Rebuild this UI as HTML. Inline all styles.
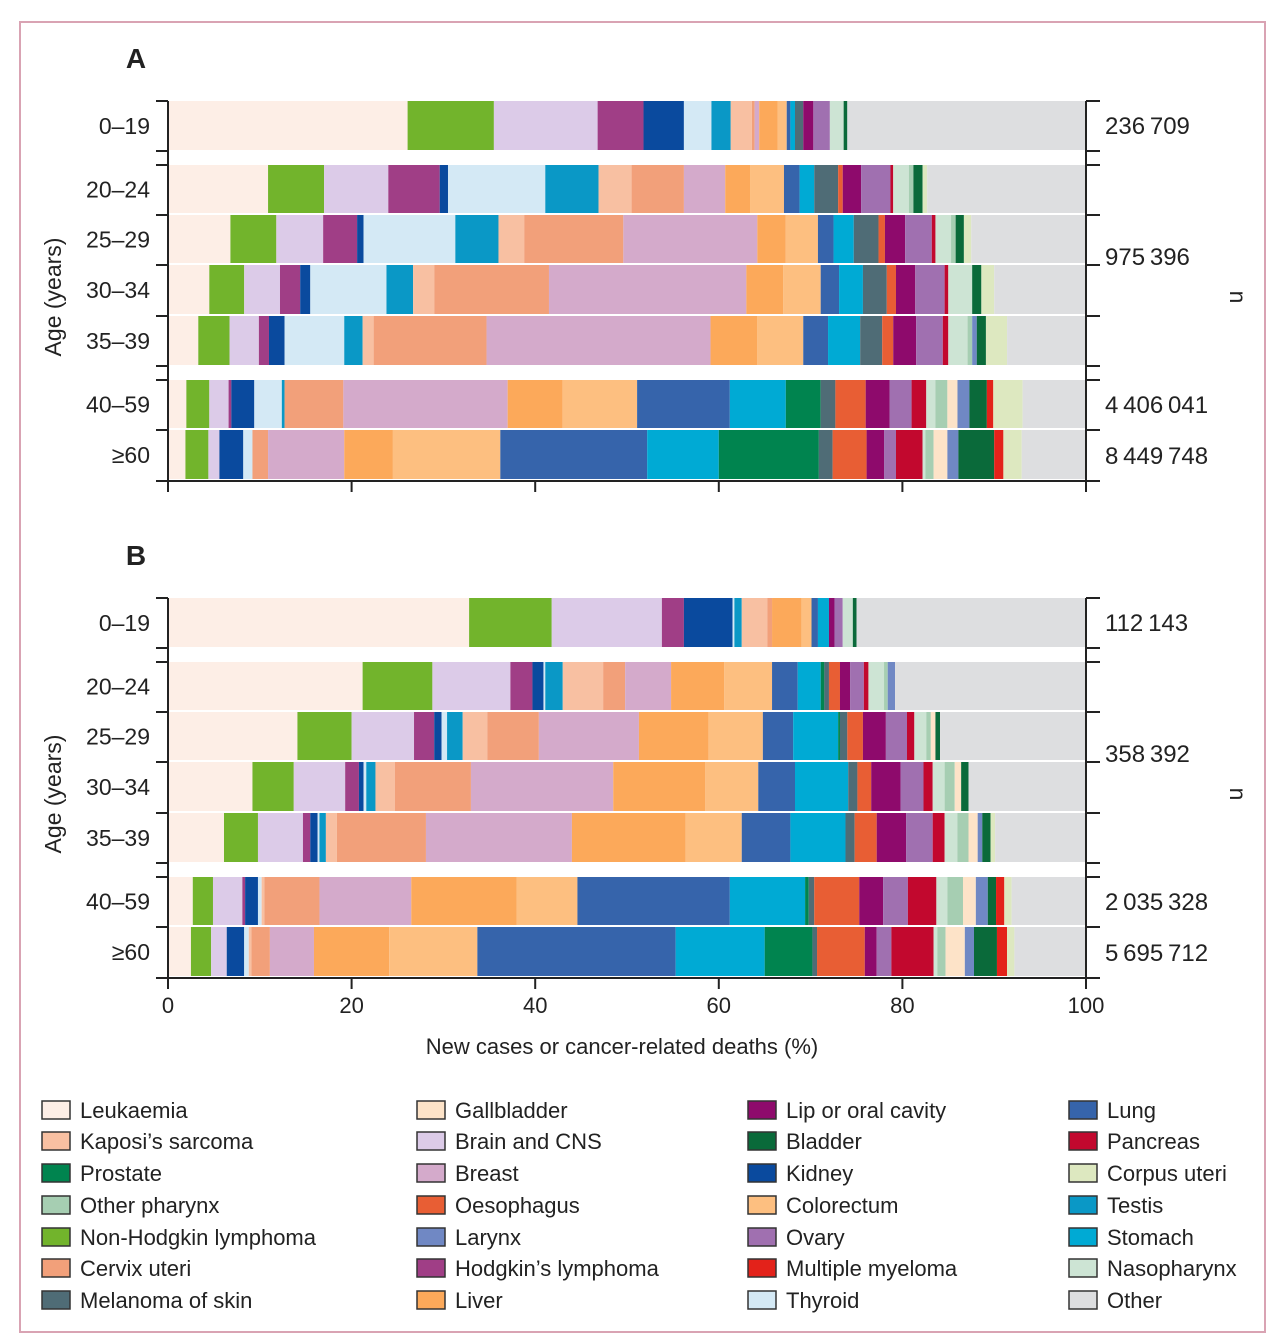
<!DOCTYPE html>
<html><head><meta charset="utf-8">
<style>
html,body{margin:0;padding:0;background:#fff;}
body{width:1280px;height:1344px;position:relative;overflow:hidden;font-family:"Liberation Sans",sans-serif;}
svg{position:absolute;left:0;top:0;}
text{font-family:"Liberation Sans",sans-serif;fill:#222;}
</style></head>
<body>
<svg id="chart" width="1280" height="1344" viewBox="0 0 1280 1344">
<rect x="20" y="22" width="1245" height="1310" fill="#fff" stroke="#d9a3b3" stroke-width="2"/>
</svg>
<script>
// categories in stacking order
const categories = ["Leukaemia","Non-Hodgkin lymphoma","Brain and CNS","Hodgkin's lymphoma","Kidney","Thyroid","Testis","Kaposi's sarcoma","Cervix uteri","Breast","Liver","Colorectum","Lung","Stomach","Prostate","Melanoma of skin","Oesophagus","Lip or oral cavity","Ovary","Pancreas","Nasopharynx","Other pharynx","Gallbladder","Larynx","Bladder","Multiple myeloma","Corpus uteri"];
const colors = ["#fdeee6","#72b42c","#dccbe8","#a03e86","#0a4a9e","#d4e9f5","#0a98c6","#f8c0a2","#f2a07a","#d4aacb","#fca95a","#fdbf80","#3664ab","#00aad4","#00844f","#4f6c76","#e85e34","#8e0a6c","#a070b0","#c2082e","#cde4d4","#a6ceb2","#fde3c8","#7088c4","#0a6a3a","#e3221a","#dde8c0"];
const otherColor = "#dddee0";
const ageLabels = ["0–19","20–24","25–29","30–34","35–39","40–59","≥60"];
// Panel A values (%) per age group, in category order
const a0_19 = [26.1,9.4,11.3,5.0,4.4,3.0,2.1,2.3,0.3,0.5,2.0,1.0,0.4,0.5,0,0.9,0,1.1,1.8,0,1.5,0,0,0,0.4,0,0];
const a20_24 = [10.9,6.1,7.0,5.6,0.9,10.6,5.8,3.6,5.7,4.5,2.7,3.7,1.7,1.6,0,2.6,0.5,2.0,3.2,0.3,1.7,0.5,0,0,1.0,0,0.5];
const a25_29 = [6.8,5.0,5.1,3.7,0.7,10.0,4.7,2.8,10.8,14.6,3.1,3.5,1.7,2.2,0,2.7,0.7,2.2,2.9,0.4,1.7,0.5,0,0,0.9,0,0.8];
const a30_34 = [4.5,3.8,3.9,2.2,1.1,8.3,2.9,2.3,12.5,21.5,4.0,4.1,2.0,2.6,0,2.6,1.0,2.1,3.2,0.4,2.6,0,0,0,1.0,0,1.4];
const a35_39 = [3.3,3.4,3.2,1.1,1.7,6.5,2.0,1.2,12.3,24.4,5.1,5.0,2.7,3.5,0,2.4,1.2,2.5,2.9,0.6,2.1,0.5,0,0.5,1.0,0,2.3];
const a40_59 = [2.0,2.5,2.1,0.3,2.5,3.0,0.3,0,6.4,17.9,6.0,8.1,10.1,6.1,3.8,1.6,3.3,2.6,2.4,1.6,1.0,1.3,1.1,1.3,1.9,0.7,3.2];
const a60 = [1.9,2.5,1.2,0,2.6,1.0,0,0,1.7,8.3,5.3,11.7,16.0,7.8,10.9,1.5,3.7,1.9,1.3,2.9,0.3,0.9,1.5,1.2,3.9,1.0,2.0];
// Panel B values (%)
const b0_19 = [32.8,9.0,12.0,2.4,5.3,0.2,0.8,2.8,0.5,0,3.2,1.1,0.7,1.2,0,0,0,0.6,0.9,0,1.1,0,0,0,0.4,0,0];
const b20_24 = [21.2,7.6,8.5,2.4,1.2,0.2,1.9,4.4,2.4,5.0,5.8,5.2,2.8,2.5,0.4,0.5,1.2,1.1,1.5,0.5,1.7,0.4,0,0.8,0,0,0];
const b25_29 = [14.1,5.9,6.8,2.2,0.8,0.6,1.7,2.7,5.6,10.9,7.6,5.9,3.3,4.9,0.2,0.8,1.7,2.5,2.3,0.8,1.3,0.5,0.5,0,0.5,0,0];
const b30_34 = [9.2,4.5,5.6,1.5,0.5,0.3,1.0,2.1,8.3,15.5,10.0,5.8,4.0,5.8,0,1.0,1.5,3.2,2.5,1.0,1.3,1.1,0.7,0,0.8,0,0];
const b35_39 = [6.1,3.7,4.9,0.8,0.8,0.2,0.7,1.2,9.7,15.9,12.4,6.1,5.3,6.0,0,1.0,2.4,3.2,2.9,1.3,1.4,1.2,1.0,0.5,0.9,0,0.5];
const b40_59 = [2.7,2.2,3.2,0.3,1.4,0.4,0,0.3,6.0,10.0,11.5,6.6,16.6,8.2,0.4,0.6,4.9,2.6,2.7,3.1,1.2,1.7,1.4,1.3,0.9,0.9,0.8];
const b60 = [2.5,2.2,1.7,0,1.9,0.5,0,0.3,2.0,4.8,8.2,9.6,21.6,9.7,5.2,0.5,5.2,1.3,1.6,4.6,0.4,0.9,2.1,1.0,2.5,1.1,0.8];
const nA = ["236\u2009709","975\u2009396","4\u2009406\u2009041","8\u2009449\u2009748"];
const nB = ["112\u2009143","358\u2009392","2\u2009035\u2009328","5\u2009695\u2009712"];
const xTicks = [0,20,40,60,80,100];
const legendOrder = ["Leukaemia","Kaposi's sarcoma","Prostate","Other pharynx","Non-Hodgkin lymphoma","Cervix uteri","Melanoma of skin","Gallbladder","Brain and CNS","Breast","Oesophagus","Larynx","Hodgkin's lymphoma","Liver","Lip or oral cavity","Bladder","Kidney","Colorectum","Ovary","Multiple myeloma","Thyroid","Lung","Pancreas","Corpus uteri","Testis","Stomach","Nasopharynx","Other"];

const svg = document.getElementById('chart');
const NS = 'http://www.w3.org/2000/svg';
function mk(tag, attrs, parent){const e=document.createElementNS(NS,tag);for(const k in attrs)e.setAttribute(k,attrs[k]);(parent||svg).appendChild(e);return e;}
const X0=168, X1=1086;
function xScale(v){return X0+(X1-X0)*v/100;}
const rowTops=[101,165,215,265,316,380,430];
const rowBots=[151,214,264,315,366,429,480];

function panel(rows, ns, off, letter, showTickLabels){
  const g=mk('g',{});
  
  
  const t=mk('text',{x:136,y:68+off,'font-size':28,'font-weight':'bold','text-anchor':'middle'},g);
  t.textContent=letter;
  
  
  rows.forEach((vals,ri)=>{
    const y=rowTops[ri]+off, h=rowBots[ri]-rowTops[ri]-1;
    let acc=0;
    vals.forEach((v,ci)=>{
      if(v<=0)return;
      const r=mk('rect',{x:xScale(acc),y:y,width:xScale(acc+v)-xScale(acc),height:h,fill:colors[ci]},g);
      
      
      acc+=v;
    });
    if(acc<100){
      const r=mk('rect',{x:xScale(acc),y:y,width:X1-xScale(acc),height:h,fill:otherColor},g);
      
      
    }
    const lt=mk('text',{x:150,y:(rowTops[ri]+rowBots[ri])/2+off+8,'font-size':23,'text-anchor':'end'},g);
    lt.textContent=ageLabels[ri];
    
    
  });
  // axes
  mk('line',{x1:X0,y1:101+off,x2:X0,y2:481+off,stroke:'#222','stroke-width':2},g);
  mk('line',{x1:X1,y1:101+off,x2:X1,y2:481+off,stroke:'#222','stroke-width':2},g);
  [101,151,165,215,265,316,366,380,430].forEach(yy=>{
    mk('line',{x1:X0-12,y1:yy+off,x2:X0,y2:yy+off,stroke:'#222','stroke-width':2},g);
    mk('line',{x1:X1,y1:yy+off,x2:X1+14,y2:yy+off,stroke:'#222','stroke-width':2},g);
  });
  mk('line',{x1:X0-12,y1:481+off,x2:X1+14,y2:481+off,stroke:'#222','stroke-width':2},g);
  xTicks.forEach(v=>{
    mk('line',{x1:xScale(v),y1:481+off,x2:xScale(v),y2:492+off,stroke:'#222','stroke-width':2},g);
    if(showTickLabels){
      const tl=mk('text',{x:xScale(v),y:1013,'font-size':22,'text-anchor':'middle'},g);
      tl.textContent=v;
      
      
    }
  });
  const nY=[134,265,413,464];
  ns.forEach((s,i)=>{
    const nt=mk('text',{x:1105,y:nY[i]+off,'font-size':24},g);
    nt.textContent=s;
    
    
  });
  const ay=mk('text',{x:0,y:0,'font-size':23,'text-anchor':'middle',transform:'translate(61,'+(297+off)+') rotate(-90)'},g);
  ay.textContent='Age (years)';
  
  
  const nn=mk('text',{x:0,y:0,'font-size':23,'text-anchor':'middle',transform:'translate(1230,'+(297+off)+') rotate(90)'},g);
  nn.textContent='n';
  
  
}
panel([a0_19,a20_24,a25_29,a30_34,a35_39,a40_59,a60],nA,0,'A',false);
panel([b0_19,b20_24,b25_29,b30_34,b35_39,b40_59,b60],nB,497,'B',true);

const xt=mk('text',{x:622,y:1054,'font-size':22,'text-anchor':'middle'});
xt.textContent='New cases or cancer-related deaths (%)';



const colX=[42,417,748,1069];
const rowY=[1110,1141,1173,1205,1237,1268,1300];
legendOrder.forEach((name,i)=>{
  const c=Math.floor(i/7), r=i%7;
  const ci=categories.indexOf(name);
  const col=ci>=0?colors[ci]:otherColor;
  const g=mk('g',{});
  
  
  mk('rect',{x:colX[c],y:rowY[r]-9,width:28,height:18,fill:col,stroke:'#333','stroke-width':1.5},g);
  const t=mk('text',{x:colX[c]+38,y:rowY[r]+8,'font-size':22},g);
  t.textContent=name.replace("'","’");
});
</script>
</body></html>
